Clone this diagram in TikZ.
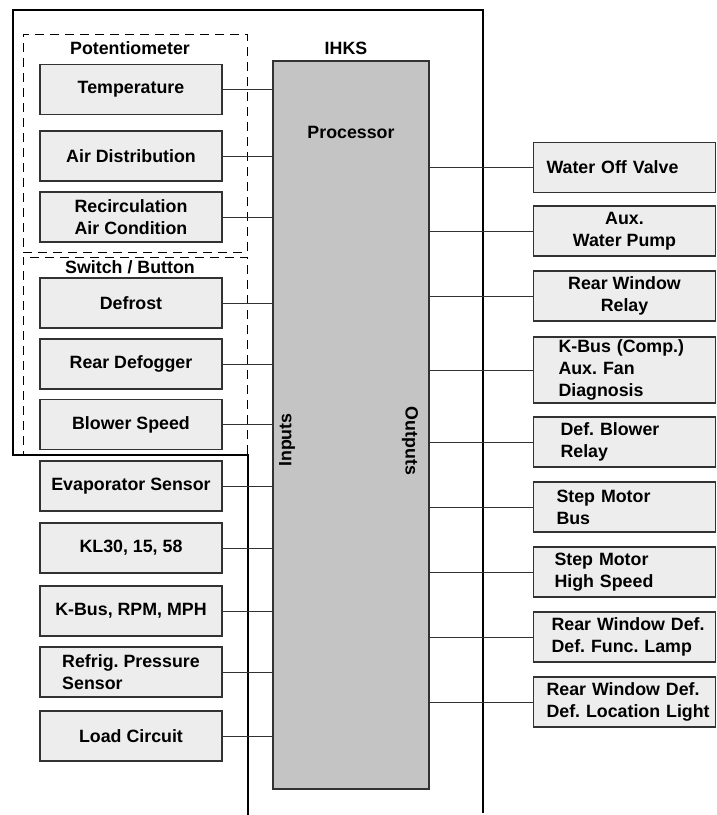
\documentclass[tikz,border=0pt]{standalone}
\usepackage{fontspec}
\setmainfont{Liberation Sans}
\usepackage{tikz}
\usetikzlibrary{positioning,calc}
\usepackage{xcolor}
\definecolor{boxgray}{RGB}{237,237,237}
\definecolor{procgray}{RGB}{196,196,196}
\definecolor{edgegray}{RGB}{50,50,50}
\frenchspacing

\begin{document}
\begin{tikzpicture}[x=1pt, y=-1pt,
    font=\fontsize{17.8}{22}\selectfont\bfseries,
    unit/.style={rectangle, draw=edgegray, fill=boxgray, line width=1.1pt,
                 minimum width=182pt, minimum height=50pt, inner ysep=2pt,
                 align=center},
    outunit/.style={unit, align=left, inner xsep=0pt, text width=#1},
    frame/.style={rectangle, draw=black, line width=1pt, dash pattern=on 9pt off 6pt},
    wire/.style={draw=edgegray, line width=1pt},
    module/.style={draw=black, line width=2.6pt}
]
\useasboundingbox (0,0) rectangle (716,815);

% IHKS module outline and groups
\draw[module] (248,815) -- (248,455) -- (13,455) -- (13,10) -- (483,10) -- (483,813);
\node[frame, minimum width=224pt, minimum height=218pt] (potframe) at (135,143) {};
\node[frame, minimum width=224pt, minimum height=198pt] (swframe)  at (135,356) {};
\node (potlabel) at (130,48)  {Potentiometer};
\node (swlabel)  at (130,267) {Switch / Button};
\node (ihks)     at (346,48)  {IHKS};

% processor
\node[rectangle, draw=edgegray, fill=procgray, line width=1.1pt,
      minimum width=156pt, minimum height=728pt] (proc) at (351,425) {};
\node (proclabel) at (351,132) {Processor};
\node[rotate=90]  (inlabel)  at (287,440) {Inputs};
\node[rotate=-90] (outlabel) at (410,441) {Outputs};

% inputs
\node[unit] (temp)    at (131,89.5)  {Temperature};
\node[unit] (airdist) at (131,156)   {Air Distribution};
\node[unit] (recirc)  at (131,217)   {Recirculation\\Air Condition};
\node[unit] (defrost) at (131,303)   {Defrost};
\node[unit] (defog)   at (131,364)   {Rear Defogger};
\node[unit] (blower)  at (131,424.5) {Blower Speed};
\node[unit] (evap)    at (131,486)   {Evaporator Sensor};
\node[unit] (kl)      at (131,548)   {KL30, 15, 58};
\node[unit] (kbusin)  at (131,611)   {K-Bus, RPM, MPH};
\node[unit, align=left] (refrig) at (131,672) {Refrig. Pressure\\Sensor};
\node[unit] (load)    at (131,736)   {Load Circuit};

% outputs
\node[outunit=156pt] (water)     at (624.5,167.5) {Water Off Valve};
\node[unit]          (pump)      at (624.5,231)   {Aux.\\Water Pump};
\node[unit]          (rwrelay)   at (624.5,296)   {Rear Window\\Relay};
\node[outunit=132pt, minimum height=66pt] (kbusout) at (624.5,370) {K-Bus (Comp.)\\Aux. Fan\\Diagnosis};
\node[outunit=128pt] (blowrelay) at (624.5,442)   {Def. Blower\\Relay};
\node[outunit=136pt] (stepbus)   at (624.5,507)   {Step Motor\\Bus};
\node[outunit=140pt] (stephigh)  at (624.5,572)   {Step Motor\\High Speed};
\node[outunit=146pt] (funclamp)  at (624.5,637)   {\mbox{Rear Window Def.}\\\mbox{Def. Func. Lamp}};
\node[outunit=156pt] (loclight)  at (624.5,702)   {\mbox{Rear Window Def.}\\\mbox{Def. Location Light}};

% input wires
\draw[wire] (temp.east)    -- (temp.east -| proc.west);
\draw[wire] (airdist.east) -- (airdist.east -| proc.west);
\draw[wire] (recirc.east)  -- (recirc.east -| proc.west);
\draw[wire] (defrost.east) -- (defrost.east -| proc.west);
\draw[wire] (defog.east)   -- (defog.east -| proc.west);
\draw[wire] (blower.east)  -- (blower.east -| proc.west);
\draw[wire] (evap.east)    -- (evap.east -| proc.west);
\draw[wire] (kl.east)      -- (kl.east -| proc.west);
\draw[wire] (kbusin.east)  -- (kbusin.east -| proc.west);
\draw[wire] (refrig.east)  -- (refrig.east -| proc.west);
\draw[wire] (load.east)    -- (load.east -| proc.west);

% output wires
\draw[wire] (proc.east |- water.west)     -- (water.west);
\draw[wire] (proc.east |- pump.west)      -- (pump.west);
\draw[wire] (proc.east |- rwrelay.west)   -- (rwrelay.west);
\draw[wire] (proc.east |- kbusout.west)   -- (kbusout.west);
\draw[wire] (proc.east |- blowrelay.west) -- (blowrelay.west);
\draw[wire] (proc.east |- stepbus.west)   -- (stepbus.west);
\draw[wire] (proc.east |- stephigh.west)  -- (stephigh.west);
\draw[wire] (proc.east |- funclamp.west)  -- (funclamp.west);
\draw[wire] (proc.east |- loclight.west)  -- (loclight.west);
\end{tikzpicture}
\end{document}
